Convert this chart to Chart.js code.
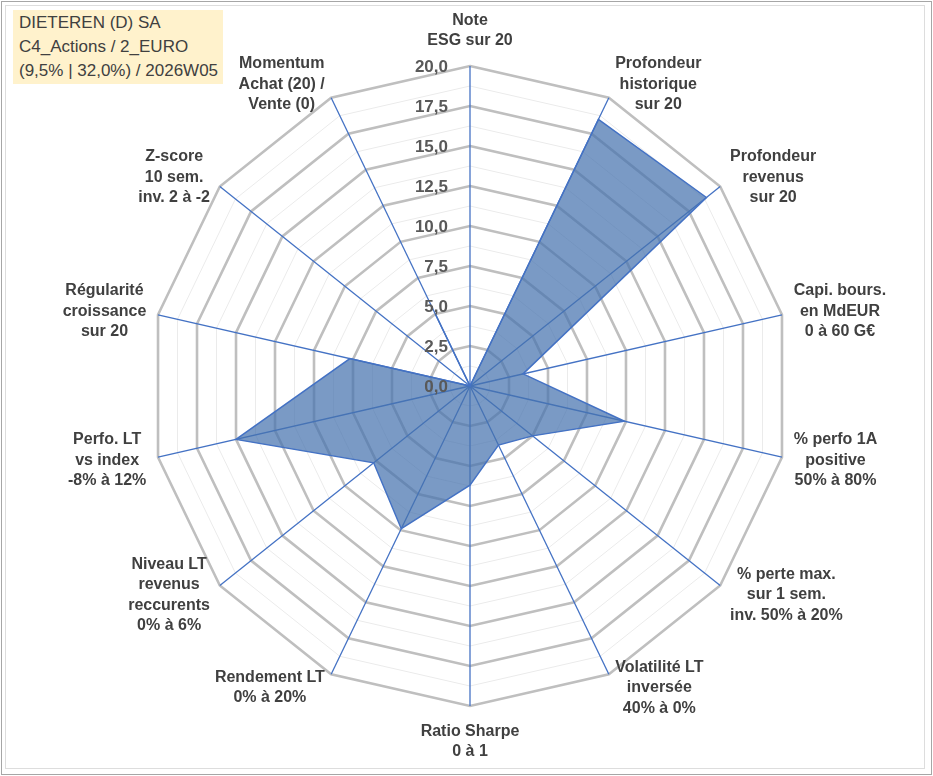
<!DOCTYPE html>
<html>
<head>
<meta charset="utf-8">
<script src="https://cdn.jsdelivr.net/npm/chart.js@4.4.1/dist/chart.umd.min.js"></script>
<style>
html,body{margin:0;padding:0;background:#fff;}
#wrap{position:relative;width:933px;height:776px;overflow:hidden;background:#fff;}
#outer{position:absolute;left:1px;top:1px;width:931px;height:774px;border:1px solid #A6A6A6;box-sizing:border-box;}
#inner{position:absolute;left:5px;top:5px;width:920px;height:764px;border:1px solid #DDDDDD;box-sizing:border-box;}
#title{position:absolute;left:13px;top:10px;width:210px;height:74px;background:#FFF2CC;font:17px "Liberation Sans",Arial,sans-serif;color:#404040;line-height:24px;padding:1px 0 0 6px;box-sizing:border-box;white-space:nowrap;}
canvas{position:absolute;left:0;top:0;}
</style>
</head>
<body>
<div id="wrap">
  <div id="outer"></div>
  <div id="inner"></div>
  <canvas id="c" width="933" height="776"></canvas>
  <div id="title">DIETEREN (D) SA<br>C4_Actions / 2_EURO<br>(9,5% | 32,0%) / 2026W05</div>
</div>
<script>
// ---- data ----
const categories = [
  ["Note", "ESG sur 20"],
  ["Profondeur", "historique", "sur 20"],
  ["Profondeur", "revenus", "sur 20"],
  ["Capi. bours.", "en MdEUR", "0 à 60 G€"],
  ["% perfo 1A", "positive", "50% à 80%"],
  ["% perte max.", "sur 1 sem.", "inv. 50% à 20%"],
  ["Volatilité LT", "inversée", "40% à 0%"],
  ["Ratio Sharpe", "0 à 1"],
  ["Rendement LT", "0% à 20%"],
  ["Niveau LT", "revenus", "reccurents", "0% à 6%"],
  ["Perfo. LT", "vs index", "-8% à 12%"],
  ["Régularité", "croissance", "sur 20"],
  ["Z-score", "10 sem.", "inv. 2 à -2"],
  ["Momentum", "Achat (20) /", "Vente (0)"]
];
const scores = [0, 18.5, 18.9, 3.4, 9.9, 5.0, 4.1, 6.2, 9.9, 7.7, 15.0, 7.7, 0, 5.0];
const tickValues = [0, 2.5, 5, 7.5, 10, 12.5, 15, 17.5, 20];
const tickLabels = ["0,0", "2,5", "5,0", "7,5", "10,0", "12,5", "15,0", "17,5", "20,0"];

const LH = 20.5;
const labelPlugin = {
  id: 'customLabels',
  afterDraw(chart) {
    const sc = chart.scales.r;
    const ctx = chart.ctx;
    ctx.save();
    ctx.font = 'bold 17px "Liberation Sans", Arial, sans-serif';
    ctx.fillStyle = '#595959';
    ctx.textAlign = 'right';
    ctx.textBaseline = 'middle';
    tickValues.forEach((v, i) => {
      const p = sc.getPointPositionForValue(0, v);
      ctx.fillText(tickLabels[i], p.x - 22, p.y + 1);
    });
    ctx.font = 'bold 16px "Liberation Sans", Arial, sans-serif';
    ctx.fillStyle = '#404040';
    ctx.textAlign = 'center';
    const n = chart.data.labels.length;
    chart.data.labels.forEach((lines, i) => {
      const ang = 2 * Math.PI * i / n;
      const s = Math.sin(ang), c = Math.cos(ang);
      const p = sc.getPointPosition(i, sc.drawingArea);
      const w = Math.max(...lines.map(l => ctx.measureText(l).width));
      const h = lines.length * LH;
      let cx, cy;
      if (Math.abs(s) < 0.01) {
        cx = p.x;
        cy = c > 0 ? p.y - 15 - h / 2 : p.y + 15 + h / 2;
      } else {
        const gap = 2 + 10 * Math.abs(s);
        cx = p.x + Math.sign(s) * (gap + w / 2);
        cy = p.y - 15 * c;
      }
      lines.forEach((l, k) => ctx.fillText(l, cx, cy - h / 2 + LH * (k + 0.5)));
    });
    ctx.restore();
  }
};

new Chart(document.getElementById('c'), {
  type: 'radar',
  data: {
    labels: categories,
    datasets: [{
      data: scores,
      backgroundColor: 'rgba(70,115,175,0.72)',
      borderColor: '#4472C4',
      borderWidth: 1.5,
      pointRadius: 0,
      pointHoverRadius: 0,
      fill: true,
      tension: 0
    }]
  },
  options: {
    responsive: false,
    animation: false,
    devicePixelRatio: 1,
    layout: { padding: { left: 150, right: 143, top: 66, bottom: 70 } },
    plugins: { legend: { display: false }, tooltip: { enabled: false } },
    scales: {
      r: {
        min: 0,
        max: 20,
        ticks: { display: false, stepSize: 1.25 },
        pointLabels: { display: false },
        grid: {
          circular: false,
          color: c => (Math.abs(c.tick.value / 2.5 - Math.round(c.tick.value / 2.5)) < 1e-6) ? '#BFBFBF' : '#EBEBEB',
          lineWidth: c => (Math.abs(c.tick.value / 2.5 - Math.round(c.tick.value / 2.5)) < 1e-6) ? 2.6 : 1
        },
        angleLines: { color: '#4472C4', lineWidth: 1.3 }
      }
    }
  },
  plugins: [labelPlugin]
});
</script>
</body>
</html>
